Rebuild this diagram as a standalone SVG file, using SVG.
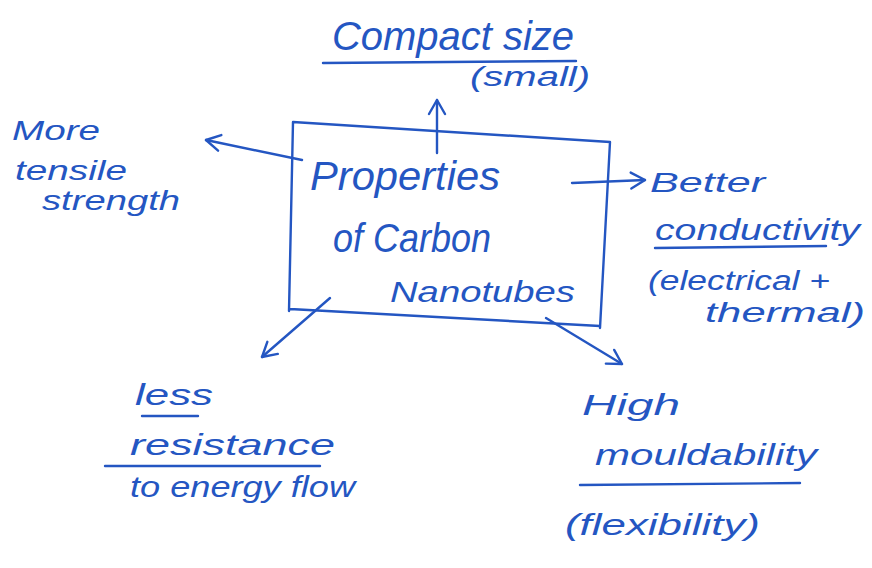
<svg xmlns="http://www.w3.org/2000/svg" width="872" height="568" viewBox="0 0 872 568">
  <style>
    .ink { fill: none; stroke: #2456c2; stroke-width: 2.4; stroke-linecap: round; stroke-linejoin: round; }
    .lbl { fill: #2456c2; font-family: "Liberation Sans", "DejaVu Sans", sans-serif; font-style: italic; }
    .big { font-size: 40px; }
    .mid { font-size: 30px; }
    .sm { font-size: 27px; }
  </style>
  <defs>
    <marker id="head" viewBox="0 0 20 20" refX="18" refY="10" markerWidth="20" markerHeight="20" markerUnits="userSpaceOnUse" orient="auto">
      <path d="M4,2 L18,10 L4,18" fill="none" stroke="#2456c2" stroke-width="2.4" stroke-linecap="round" stroke-linejoin="round"/>
    </marker>
  </defs>
  <rect width="872" height="568" fill="#ffffff"/>

  <!-- central box -->
  <g id="center">
    <path class="ink" d="M293,122 L610,142 L600,328 M290,309 L600,326 M293,122 L289,311"/>
    <text class="lbl big" x="310" y="190" textLength="190" lengthAdjust="spacingAndGlyphs">Properties</text>
    <text class="lbl big" x="333" y="252" textLength="158" lengthAdjust="spacingAndGlyphs">of Carbon</text>
    <text class="lbl mid" x="390" y="302" textLength="185" lengthAdjust="spacingAndGlyphs">Nanotubes</text>
  </g>

  <!-- connectors -->
  <g id="connectors">
    <path class="ink" d="M437,153 L437,100" marker-end="url(#head)"/>
    <path class="ink" d="M302,160 L206,140" marker-end="url(#head)"/>
    <path class="ink" d="M572,183 L645,180" marker-end="url(#head)"/>
    <path class="ink" d="M330,298 L262,357" marker-end="url(#head)"/>
    <path class="ink" d="M546,318 L622,364" marker-end="url(#head)"/>
  </g>

  <g id="compact">
    <text class="lbl big" x="332" y="50" textLength="242" lengthAdjust="spacingAndGlyphs">Compact size</text>
    <path class="ink" d="M323,63 L576,61"/>
    <text class="lbl sm" x="470" y="86" textLength="120" lengthAdjust="spacingAndGlyphs">(small)</text>
  </g>

  <g id="tensile">
    <text class="lbl sm" x="12" y="140" textLength="88" lengthAdjust="spacingAndGlyphs">More</text>
    <text class="lbl sm" x="15" y="180" textLength="112" lengthAdjust="spacingAndGlyphs">tensile</text>
    <text class="lbl sm" x="42" y="210" textLength="138" lengthAdjust="spacingAndGlyphs">strength</text>
  </g>

  <g id="conductivity">
    <text class="lbl sm" x="650" y="192" textLength="115" lengthAdjust="spacingAndGlyphs">Better</text>
    <text class="lbl mid" x="655" y="240" textLength="205" lengthAdjust="spacingAndGlyphs">conductivity</text>
    <path class="ink" d="M655,248 L826,246"/>
    <text class="lbl sm" x="648" y="290" textLength="182" lengthAdjust="spacingAndGlyphs">(electrical +</text>
    <text class="lbl sm" x="705" y="322" textLength="160" lengthAdjust="spacingAndGlyphs">thermal)</text>
  </g>

  <g id="resistance">
    <text class="lbl mid" x="135" y="405" textLength="78" lengthAdjust="spacingAndGlyphs">less</text>
    <path class="ink" d="M142,416 L198,416"/>
    <text class="lbl mid" x="130" y="455" textLength="205" lengthAdjust="spacingAndGlyphs">resistance</text>
    <path class="ink" d="M105,466 L320,466"/>
    <text class="lbl mid" x="130" y="497" textLength="225" lengthAdjust="spacingAndGlyphs">to energy flow</text>
  </g>

  <g id="mouldability">
    <text class="lbl mid" x="582" y="415" textLength="98" lengthAdjust="spacingAndGlyphs">High</text>
    <text class="lbl mid" x="595" y="465" textLength="222" lengthAdjust="spacingAndGlyphs">mouldability</text>
    <path class="ink" d="M580,485 L800,483"/>
    <text class="lbl mid" x="565" y="535" textLength="195" lengthAdjust="spacingAndGlyphs">(flexibility)</text>
  </g>
</svg>
